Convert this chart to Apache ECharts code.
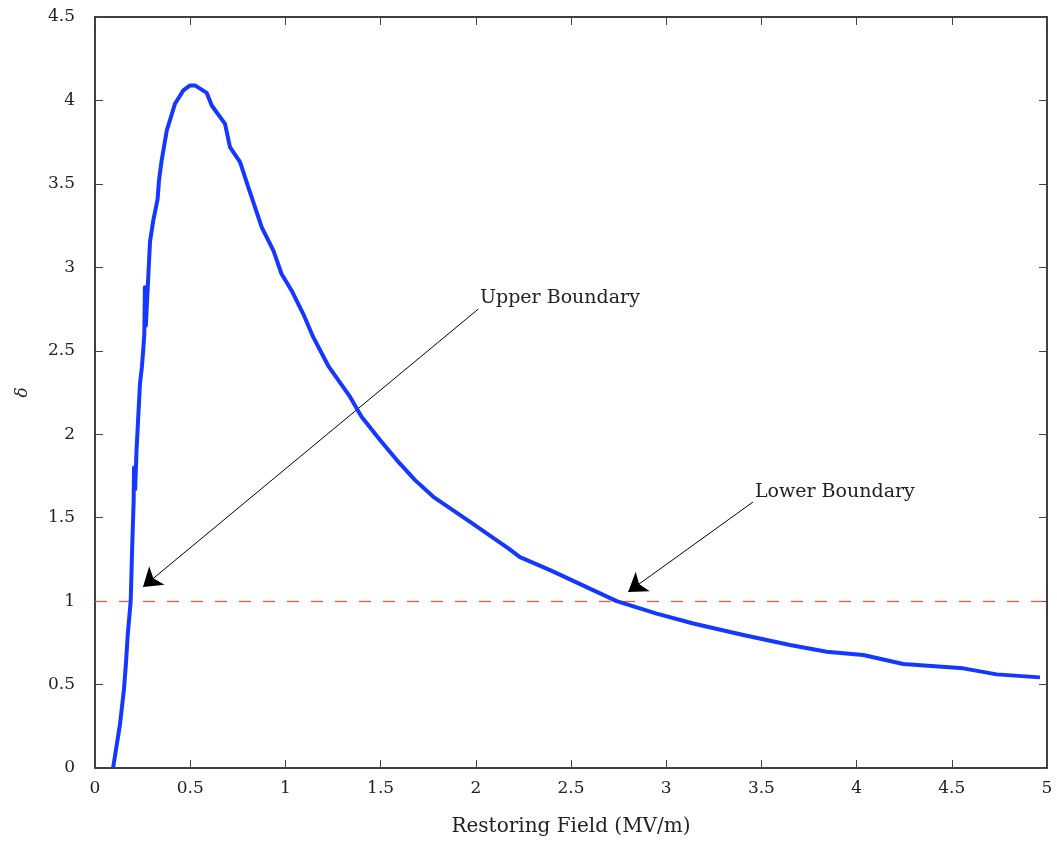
<!DOCTYPE html>
<html>
<head>
<meta charset="utf-8">
<script src="https://cdn.jsdelivr.net/npm/echarts@6/dist/echarts.min.js"></script>
<style>html,body{margin:0;padding:0;background:#fff}#c{width:1057px;height:846px}</style>
</head>
<body>
<div id="c"></div>
<script>
const fieldValues = [0.095,0.131,0.152,0.163,0.172,0.1875,0.196,0.203,0.205,0.211,0.214,0.218,0.227,0.236,0.246,0.253,0.259,0.262,0.267,0.272,0.289,0.306,0.329,0.336,0.350,0.377,0.420,0.464,0.499,0.525,0.587,0.613,0.683,0.709,0.762,0.805,0.876,0.937,0.98,1.033,1.094,1.147,1.225,1.339,1.40,1.497,1.585,1.681,1.777,1.97,2.171,2.232,2.39,2.74,2.95,3.142,3.405,3.65,3.843,4.035,4.245,4.56,4.736,4.963];
const deltaValues = [0,0.26,0.47,0.635,0.80,1.0,1.35,1.60,1.80,1.67,1.68,1.90,2.10,2.30,2.40,2.50,2.60,2.88,2.65,2.66,3.155,3.28,3.41,3.52,3.64,3.82,3.98,4.06,4.09,4.09,4.045,3.97,3.86,3.72,3.63,3.48,3.24,3.10,2.96,2.86,2.72,2.58,2.41,2.225,2.105,1.965,1.845,1.725,1.625,1.475,1.316,1.264,1.186,1.0,0.925,0.866,0.797,0.737,0.697,0.677,0.623,0.597,0.561,0.543];
const thresholdValue = 1;
const annotationLabels = ['Upper Boundary', 'Lower Boundary'];
const annotationTextPos = [[2.022, 2.816], [3.466, 1.654]];
const annotationFrom = [[2.013, 2.75], [3.456, 1.594]];
const annotationTo = [[0.252, 1.085], [2.80, 1.055]];

const FONT = 'DejaVu Serif';
const chart = echarts.init(document.getElementById('c'), null, {renderer: 'canvas'});
const data = fieldValues.map((x, i) => [x, deltaValues[i]]);

function axisCommon(showLabel, margin) {
  return {
    axisLine: {show: true, onZero: false, lineStyle: {color: '#000', width: 1.5}},
    axisTick: {show: true, inside: true, length: 8, lineStyle: {color: '#444', width: 1}},
    splitLine: {show: false},
    axisLabel: {show: showLabel, margin: margin, color: '#222', fontFamily: FONT, fontSize: 17}
  };
}

function arrowData(rotations) {
  return annotationFrom.map((p, i) => {
    const end = {coord: annotationTo[i]};
    if (rotations) end.symbolRotate = rotations[i];
    return [{coord: p}, end];
  });
}

function buildOption(rotations) {
  return {
    animation: false,
    backgroundColor: '#fff',
    grid: {left: 95, right: 10, top: 17, bottom: 78, containLabel: false},
    xAxis: [
      Object.assign(axisCommon(true, 12), {
        type: 'value', min: 0, max: 5, interval: 0.5, position: 'bottom',
        name: 'Restoring Field (MV/m)', nameLocation: 'middle', nameGap: 49,
        nameTextStyle: {fontFamily: FONT, fontSize: 20, color: '#222'}
      }),
      Object.assign(axisCommon(false, 8), {
        type: 'value', min: 0, max: 5, interval: 0.5, position: 'top'
      })
    ],
    yAxis: [
      Object.assign(axisCommon(true, 20), {
        type: 'value', min: 0, max: 4.5, interval: 0.5, position: 'left',
        name: 'δ', nameLocation: 'middle', nameGap: 64, nameRotate: 90,
        nameTextStyle: {fontFamily: FONT, fontSize: 17, fontStyle: 'italic', color: '#222'}
      }),
      Object.assign(axisCommon(false, 8), {
        type: 'value', min: 0, max: 4.5, interval: 0.5, position: 'right'
      })
    ],
    series: [
      {
        type: 'line', data: data, showSymbol: false, symbol: 'none',
        lineStyle: {color: '#1438ff', width: 4, join: 'round'},
        z: 5
      },
      {
        type: 'line', data: [],
        markLine: {
          silent: true, symbol: ['none', 'none'], label: {show: false},
          lineStyle: {color: '#f0583f', width: 1.3, type: [12, 12], opacity: 1},
          data: [{yAxis: thresholdValue}]
        },
        z: 3
      },
      {
        type: 'line', data: [],
        markLine: {
          silent: true, symbol: ['none', 'arrow'], symbolSize: 18, label: {show: false},
          lineStyle: {color: '#000', width: 1, type: 'solid', opacity: 1},
          itemStyle: {color: '#000'},
          data: arrowData(rotations)
        },
        markPoint: {
          silent: true, symbol: 'circle', symbolSize: 0,
          label: {show: true, position: 'right', distance: 0, formatter: '{b}', color: '#222', fontFamily: FONT, fontSize: 19},
          data: annotationLabels.map((n, i) => ({name: n, coord: annotationTextPos[i]}))
        },
        z: 6
      }
    ]
  };
}

chart.setOption(buildOption(null));
// orient arrowheads along their lines
const rotations = annotationFrom.map((p, i) => {
  const a = chart.convertToPixel({gridIndex: 0}, p);
  const b = chart.convertToPixel({gridIndex: 0}, annotationTo[i]);
  const dx = b[0] - a[0], dy = b[1] - a[1];
  // angle of direction in math coords (y up), minus 90 since arrow points up at 0
  return Math.atan2(-dy, dx) * 180 / Math.PI - 90;
});
chart.setOption(buildOption(rotations), true);
</script>
</body>
</html>
